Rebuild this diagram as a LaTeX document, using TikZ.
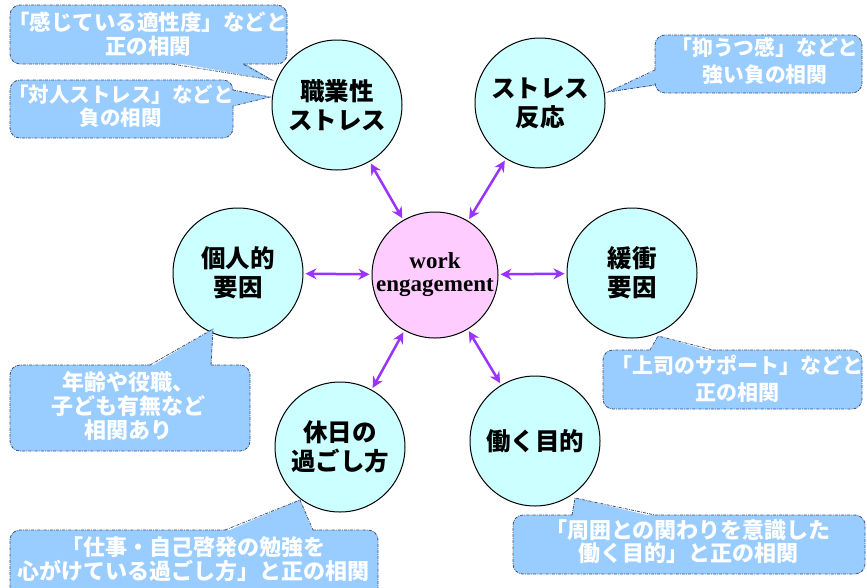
\documentclass[tikz,border=0pt]{standalone}
\usepackage{fontspec}
\setmainfont{Liberation Serif}
\newfontfamily\jp{Noto Sans CJK JP}
\usetikzlibrary{arrows.meta}
\definecolor{bubble}{HTML}{99CCFF}
\definecolor{bubbleline}{HTML}{3A4F7A}
\definecolor{circfill}{HTML}{CCFFFF}
\definecolor{pinkfill}{HTML}{FFCCFF}
\definecolor{arrowc}{HTML}{9933FF}
\begin{document}
\begin{tikzpicture}[x=1pt,y=-1pt,
  factor/.style={circle,draw=black,line width=1pt,fill=circfill,minimum size=130pt,inner sep=0pt,align=center,font=\jp\bfseries\fontsize{24.5}{29}\selectfont},
  core/.style={circle,draw=black,line width=1pt,fill=pinkfill,minimum size=126pt,inner sep=0pt,align=center,font=\bfseries\fontsize{23}{23}\selectfont},
  link/.style={arrowc,line width=2.5pt,{Stealth[length=11pt,width=11pt]}-{Stealth[length=11pt,width=11pt]},shorten <=2pt,shorten >=2pt},
  bfill/.style={fill=bubble},
  bline/.style={draw=bubbleline,line width=0.8pt,dash pattern=on 3pt off 1.2pt on 0.8pt off 1.2pt},
  btext/.style={text=white,align=center,inner sep=0pt}]
\useasboundingbox (0,0) rectangle (867,587);
\clip (0,0) rectangle (867,587);

% circles
\node[core] (we) at (435,275) {work\\engagement};
\node[factor] (s1) at (337,105) {職業性\\ストレス};
\node[factor] (s2) at (540,103) {ストレス\\反応};
\node[factor] (s3) at (238,273) {個人的\\要因};
\node[factor] (s4) at (632,273) {緩衝\\要因};
\node[factor] (s5) at (340,447) {休日の\\過ごし方};
\node[factor] (s6) at (535,441) {働く目的};

% arrows
\draw[link] (we) -- (s1);
\draw[link] (we) -- (s2);
\draw[link] (we) -- (s3);
\draw[link] (we) -- (s4);
\draw[link] (we) -- (s5);
\draw[link] (we) -- (s6);

% callout 1
\fill[bfill,rounded corners=10pt] (10,5) rectangle (287,64);
\fill[bfill] (172,62) -- (272,80) -- (243,62) -- cycle;
\draw[bline,rounded corners=10pt] (243,64) -- (287,64) -- (287,5) -- (10,5) -- (10,64) -- (172,64);
\draw[bline] (172,64) -- (272,80) -- (243,64);
\node[btext,font=\jp\bfseries\fontsize{21.5}{24}\selectfont] (t1) at (148,34) {「感じている適性度」などと\\正の相関};

% callout 2
\fill[bfill,rounded corners=10pt] (10,80) rectangle (233,138);
\fill[bfill] (231,90) -- (270,97) -- (231,106) -- cycle;
\draw[bline,rounded corners=10pt] (233,106) -- (233,138) -- (10,138) -- (10,80) -- (233,80) -- (233,90);
\draw[bline] (233,90) -- (270,97) -- (233,106);
\node[btext,font=\jp\bfseries\fontsize{20.5}{23}\selectfont] (t2) at (121,106.5) {「対人ストレス」などと\\負の相関};

% callout 3
\fill[bfill,rounded corners=10pt] (655,35) rectangle (862,93);
\fill[bfill] (657,70) -- (608,92) -- (657,85) -- cycle;
\draw[bline,rounded corners=10pt] (655,70) -- (655,35) -- (862,35) -- (862,93) -- (655,93) -- (655,85);
\draw[bline] (655,70) -- (608,92) -- (655,85);
\node[btext,font=\jp\bfseries\fontsize{20.8}{27}\selectfont] (t3) at (765,61.5) {「抑うつ感」などと\\強い負の相関};

% callout 4
\fill[bfill,rounded corners=10pt] (10,365) rectangle (250,451);
\fill[bfill] (150,367) -- (213,329) -- (211,367) -- cycle;
\draw[bline,rounded corners=10pt] (211,365) -- (250,365) -- (250,451) -- (10,451) -- (10,365) -- (150,365);
\draw[bline] (150,365) -- (213,329) -- (211,365);
\node[btext,font=\jp\bfseries\fontsize{22}{24}\selectfont] (t4) at (128,406) {年齢や役職、\\子ども有無など\\相関あり};

% callout 5
\fill[bfill,rounded corners=10pt] (603,350) rectangle (862,409);
\fill[bfill] (650,352) -- (658,336) -- (713,352) -- cycle;
\draw[bline,rounded corners=10pt] (713,350) -- (862,350) -- (862,409) -- (603,409) -- (603,350) -- (650,350);
\draw[bline] (650,350) -- (658,336) -- (713,350);
\node[btext,font=\jp\bfseries\fontsize{21}{27}\selectfont] (t5) at (737,378.5) {「上司のサポート」などと\\正の相関};

% callout 6
\fill[bfill,rounded corners=10pt] (10,530) rectangle (378,600);
\fill[bfill] (225,532) -- (300,500) -- (313,532) -- cycle;
\draw[bline,rounded corners=10pt] (313,530) -- (378,530) -- (378,600) -- (10,600) -- (10,530) -- (225,530);
\draw[bline] (225,530) -- (300,500) -- (313,530);
\node[btext,font=\jp\bfseries\fontsize{22}{24}\selectfont] (t6) at (193,559) {「仕事・自己啓発の勉強を\\心がけている過ごし方」と正の相関};

% callout 7
\fill[bfill,rounded corners=10pt] (513,515) rectangle (865,574);
\fill[bfill] (572,517) -- (575,498) -- (655,517) -- cycle;
\draw[bline,rounded corners=10pt] (655,515) -- (865,515) -- (865,574) -- (513,574) -- (513,515) -- (572,515);
\draw[bline] (572,515) -- (575,498) -- (655,515);
\node[btext,font=\jp\bfseries\fontsize{22}{23}\selectfont] (t7) at (688,541.5) {「周囲との関わりを意識した\\働く目的」と正の相関};
\end{tikzpicture}
\end{document}
